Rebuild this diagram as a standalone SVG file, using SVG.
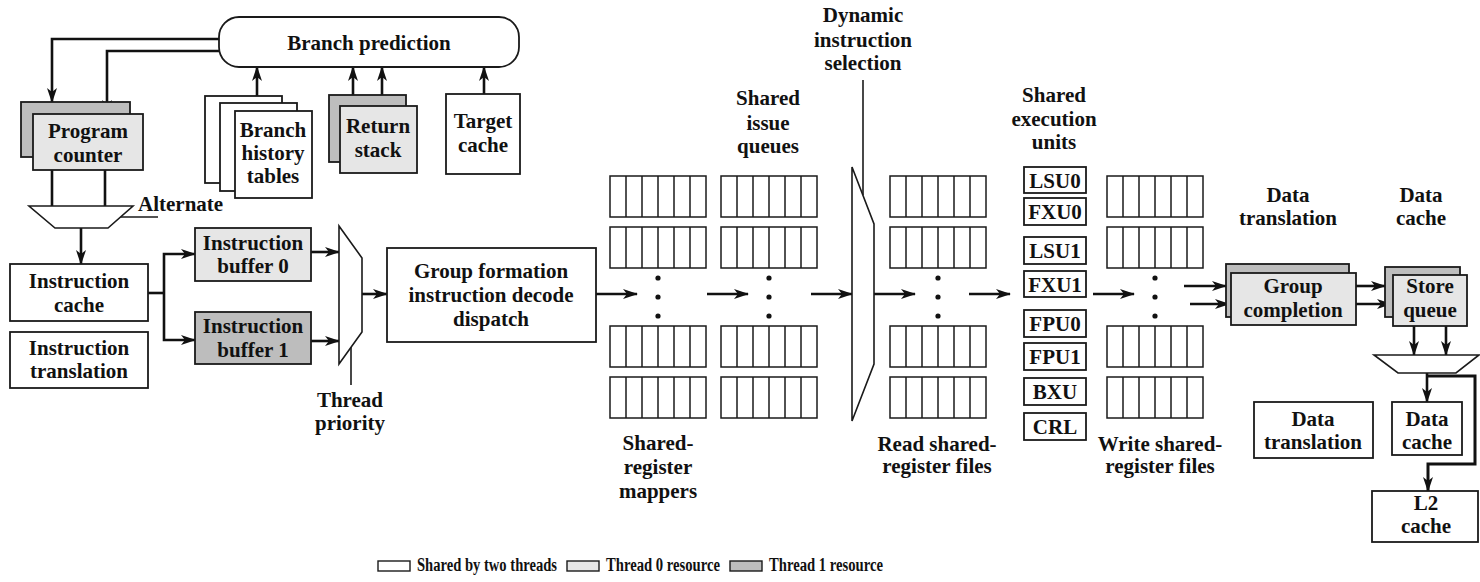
<svg xmlns="http://www.w3.org/2000/svg" xmlns:xlink="http://www.w3.org/1999/xlink" width="1480" height="582" viewBox="0 0 1480 582">
<style>
text{font-family:"Liberation Serif","Times New Roman",serif;font-weight:bold;font-size:21px;fill:#111;text-anchor:middle}
.box{fill:#fff;stroke:#1a1a1a;stroke-width:1.8}
.t0{fill:#e6e6e6;stroke:#1a1a1a;stroke-width:1.8}
.t1{fill:#bdbdbd;stroke:#1a1a1a;stroke-width:1.8}
.mux{fill:#fff;stroke:#1a1a1a;stroke-width:1.6}
.ln{fill:none;stroke:#1a1a1a;stroke-width:1.6}
.c{fill:none;stroke:#111;stroke-width:2.6}
.ca{fill:none;stroke:#111;stroke-width:2.6;marker-end:url(#ah)}
.cell{fill:#fff;stroke:#1a1a1a;stroke-width:1.5}
.dot{fill:#111}
.lg{font-size:18px;text-anchor:start}
</style>
<defs>
<marker id="ah" markerUnits="userSpaceOnUse" markerWidth="16" markerHeight="12" refX="14" refY="5" orient="auto">
<path d="M0,0 L15,5 L0,10 L4,5 Z" fill="#111"/>
</marker>
<g id="rf">
<rect class="cell" x="0" y="0" width="96" height="41"/>
<path class="cell" d="M16,0V41M32,0V41M48,0V41M64,0V41M80,0V41"/>
</g>
<g id="rfcol">
<use xlink:href="#rf" x="0" y="176"/>
<use xlink:href="#rf" x="0" y="227"/>
<use xlink:href="#rf" x="0" y="326"/>
<use xlink:href="#rf" x="0" y="377"/>
<circle class="dot" cx="48" cy="278" r="2.6"/>
<circle class="dot" cx="48" cy="297" r="2.6"/>
<circle class="dot" cx="48" cy="316" r="2.6"/>
</g>
</defs>

<g id="connectors">
<path class="ca" d="M219,39 H52 V102"/>
<path class="ca" d="M219,51 H107 V114"/>
<path class="ca" d="M257,96 V67"/>
<path class="ca" d="M353,95 V67"/>
<path class="ca" d="M382,106 V67"/>
<path class="ca" d="M484,94 V67"/>
<path class="c" d="M52,170 V206 M105,170 V206"/>
<path class="ln" d="M120,217 H158"/>
<path class="ca" d="M81,228 V264"/>
<path class="c" d="M148,293 H164"/>
<path class="ca" d="M164,293 V254 H195"/>
<path class="ca" d="M164,293 V340 H195"/>
<path class="ca" d="M311,252 H339"/>
<path class="ca" d="M311,341 H339"/>
<path class="ln" d="M351,347 V385"/>
<path class="ca" d="M362,294 H387"/>
<path class="ca" d="M596,294 H637"/>
<path class="ca" d="M707,294 H748"/>
<path class="ca" d="M811,294 H852"/>
<path class="ln" d="M863,80 V195"/>
<path class="ca" d="M874,294 H915"/>
<path class="ca" d="M969,294 H1010"/>
<path class="ca" d="M1093,294 H1134"/>
<path class="ca" d="M1184,286 H1226"/>
<path class="ca" d="M1190,304 H1229"/>
<path class="ca" d="M1356,286 H1385"/>
<path class="ca" d="M1356,304 H1391"/>
<path class="ca" d="M1414,326 V355"/>
<path class="ca" d="M1446,326 V355"/>
<path class="ca" d="M1427,373 V402"/>
<path class="ca" d="M1427,376 H1475 V464 H1428 V491" style="stroke-width:3"/>
</g>

<g id="branch-prediction">
<rect class="box" x="219" y="17" width="300" height="50" rx="20" ry="20"/>
<text x="369" y="50">Branch prediction</text>
</g>

<g id="program-counter">
<rect class="t1" x="21" y="102" width="109" height="55"/>
<rect class="t0" x="33" y="114" width="110" height="56"/>
<text x="88" y="138">Program</text>
<text x="88" y="162">counter</text>
</g>

<g id="branch-history-tables">
<rect class="box" x="205" y="96" width="77" height="87"/>
<rect class="box" x="220" y="103" width="77" height="88"/>
<rect class="box" x="235" y="111" width="77" height="87"/>
<text x="273" y="137">Branch</text>
<text x="273" y="160">history</text>
<text x="273" y="183">tables</text>
</g>

<g id="return-stack">
<rect class="t1" x="329" y="95" width="77" height="67"/>
<rect class="t0" x="340" y="106" width="77" height="67"/>
<text x="378" y="133">Return</text>
<text x="378" y="157">stack</text>
</g>

<g id="target-cache">
<rect class="box" x="446" y="94" width="74" height="80"/>
<text x="483" y="128">Target</text>
<text x="483" y="152">cache</text>
</g>

<g id="alternate-mux">
<polygon class="mux" points="29,206 133,206 108,228 55,228"/>
<text x="138" y="211" style="text-anchor:start">Alternate</text>
</g>

<g id="instruction-cache">
<rect class="box" x="10" y="264" width="138" height="57"/>
<text x="79" y="288">Instruction</text>
<text x="79" y="312">cache</text>
</g>

<g id="instruction-translation">
<rect class="box" x="10" y="332" width="138" height="56"/>
<text x="79" y="355">Instruction</text>
<text x="79" y="378">translation</text>
</g>

<g id="instruction-buffer-0">
<rect class="t0" x="195" y="228" width="116" height="53"/>
<text x="253" y="250">Instruction</text>
<text x="253" y="273">buffer 0</text>
</g>

<g id="instruction-buffer-1">
<rect class="t1" x="195" y="312" width="116" height="52"/>
<text x="253" y="333">Instruction</text>
<text x="253" y="357">buffer 1</text>
</g>

<g id="thread-priority-mux">
<polygon class="mux" points="339,226 362,258 362,332 339,364"/>
<text x="350" y="407">Thread</text>
<text x="350" y="430">priority</text>
</g>

<g id="group-formation">
<rect class="box" x="387" y="248" width="209" height="94"/>
<text x="491" y="278">Group formation</text>
<text x="491" y="302">instruction decode</text>
<text x="491" y="326">dispatch</text>
</g>

<g id="shared-register-mappers">
<use xlink:href="#rfcol" x="610" y="0"/>
<text x="658" y="450">Shared-</text>
<text x="658" y="474">register</text>
<text x="658" y="498">mappers</text>
</g>

<g id="shared-issue-queues">
<use xlink:href="#rfcol" x="721" y="0"/>
<text x="768" y="105">Shared</text>
<text x="768" y="130">issue</text>
<text x="768" y="153">queues</text>
</g>

<g id="dynamic-instruction-selection">
<polygon class="mux" points="852,167 874,224 874,364 852,421"/>
<text x="863" y="22">Dynamic</text>
<text x="863" y="47">instruction</text>
<text x="863" y="70">selection</text>
</g>

<g id="read-shared-register-files">
<use xlink:href="#rfcol" x="890" y="0"/>
<text x="937" y="451">Read shared-</text>
<text x="937" y="473">register files</text>
</g>

<g id="shared-execution-units">
<text x="1054" y="102">Shared</text>
<text x="1054" y="126">execution</text>
<text x="1054" y="149">units</text>
<rect class="box" x="1024" y="167" width="62" height="26"/>
<text x="1055" y="188">LSU0</text>
<rect class="box" x="1024" y="198" width="62" height="27"/>
<text x="1055" y="219">FXU0</text>
<rect class="box" x="1024" y="237" width="62" height="27"/>
<text x="1055" y="258">LSU1</text>
<rect class="box" x="1024" y="271" width="62" height="26"/>
<text x="1055" y="292">FXU1</text>
<rect class="box" x="1024" y="310" width="62" height="27"/>
<text x="1055" y="331">FPU0</text>
<rect class="box" x="1024" y="343" width="62" height="27"/>
<text x="1055" y="364">FPU1</text>
<rect class="box" x="1024" y="378" width="62" height="27"/>
<text x="1055" y="399">BXU</text>
<rect class="box" x="1024" y="413" width="62" height="27"/>
<text x="1055" y="434">CRL</text>
</g>

<g id="write-shared-register-files">
<use xlink:href="#rfcol" x="1107" y="0"/>
<text x="1160" y="451">Write shared-</text>
<text x="1160" y="473">register files</text>
</g>

<g id="group-completion">
<text x="1288" y="202">Data</text>
<text x="1288" y="225">translation</text>
<rect class="t1" x="1226" y="264" width="123" height="53"/>
<rect class="t0" x="1231" y="273" width="125" height="52"/>
<text x="1293" y="293">Group</text>
<text x="1293" y="317">completion</text>
</g>

<g id="store-queue">
<text x="1421" y="202">Data</text>
<text x="1421" y="225">cache</text>
<rect class="t1" x="1385" y="267" width="75" height="50"/>
<rect class="t0" x="1393" y="275" width="74" height="51"/>
<text x="1430" y="293">Store</text>
<text x="1430" y="317">queue</text>
</g>

<g id="store-mux">
<polygon class="mux" points="1374,355 1479,355 1456,373 1398,373"/>
</g>

<g id="data-translation">
<rect class="box" x="1254" y="402" width="119" height="56"/>
<text x="1313" y="426">Data</text>
<text x="1313" y="449">translation</text>
</g>

<g id="data-cache">
<rect class="box" x="1392" y="402" width="70" height="53"/>
<text x="1427" y="426">Data</text>
<text x="1427" y="449">cache</text>
</g>

<g id="l2-cache">
<rect class="box" x="1372" y="491" width="106" height="51"/>
<text x="1426" y="510">L2</text>
<text x="1426" y="533">cache</text>
</g>

<g id="legend">
<rect class="box" x="378" y="561" width="32" height="10" style="stroke-width:1.4"/>
<text class="lg" x="417" y="571" textLength="140" lengthAdjust="spacingAndGlyphs">Shared by two threads</text>
<rect class="t0" x="567" y="561" width="32" height="10" style="stroke-width:1.4"/>
<text class="lg" x="606" y="571" textLength="114" lengthAdjust="spacingAndGlyphs">Thread 0 resource</text>
<rect class="t1" x="730" y="561" width="32" height="10" style="stroke-width:1.4"/>
<text class="lg" x="769" y="571" textLength="114" lengthAdjust="spacingAndGlyphs">Thread 1 resource</text>
</g>
</svg>
